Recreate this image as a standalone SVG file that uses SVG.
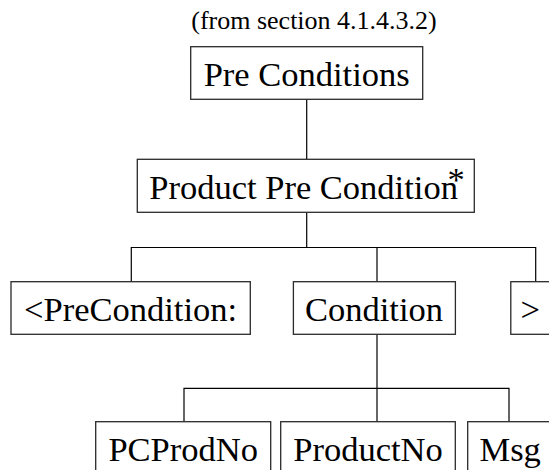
<svg xmlns="http://www.w3.org/2000/svg" width="549" height="470" viewBox="0 0 549 470" font-family="Liberation Serif, Tinos, DejaVu Serif, serif">
  <style>
    .box { fill: #ffffff; stroke: #2a2a2a; stroke-width: 1.3; }
    .lbl { font-family: 'Liberation Serif', 'DejaVu Serif', serif; font-size: 34.5px; fill: #000000; }
    .title { font-family: 'Liberation Serif', 'DejaVu Serif', serif; font-size: 26px; fill: #000000; }
    .wire { fill: none; stroke: #000000; stroke-width: 1.2; }
  </style>
  <rect width="549" height="470" fill="#ffffff"/>

  <text class="title" x="314" y="28.5" text-anchor="middle">(from section 4.1.4.3.2)</text>

  <!-- tree connectors -->
  <g id="connectors">
    <path class="wire" d="M306.7,99 V159.5"/>
    <path class="wire" d="M306.7,212.5 V247.5"/>
    <path class="wire" d="M131.3,282 V247.5 H535.7 V282"/>
    <path class="wire" d="M377,247.5 V282"/>
    <path class="wire" d="M377,334.5 V422"/>
    <path class="wire" d="M184,422 V388.3 H509 V422"/>
  </g>

  <g id="pre-conditions">
    <rect class="box" x="190.7" y="46.7" width="232" height="52.6"/>
    <text class="lbl" x="306.7" y="85.5" text-anchor="middle">Pre Conditions</text>
  </g>

  <g id="product-pre-condition">
    <rect class="box" x="137.3" y="159.3" width="337" height="53"/>
    <text class="lbl" x="149.3" y="199.3">Product Pre Condition</text>
    <text class="lbl" x="456" y="190.8" text-anchor="middle">*</text>
  </g>

  <g id="precondition-open">
    <rect class="box" x="11" y="281.7" width="239.3" height="52.6"/>
    <text class="lbl" x="130.6" y="320.5" text-anchor="middle">&lt;PreCondition:</text>
  </g>

  <g id="condition">
    <rect class="box" x="293.4" y="281.7" width="162" height="52.6"/>
    <text class="lbl" x="374" y="320.5" text-anchor="middle">Condition</text>
  </g>

  <g id="precondition-close">
    <rect class="box" x="510.8" y="281.7" width="60" height="52.6"/>
    <text class="lbl" x="520.5" y="320.5">&gt;</text>
  </g>

  <g id="pcprodno">
    <rect class="box" x="95.7" y="421.7" width="175" height="60"/>
    <text class="lbl" x="183.2" y="461" text-anchor="middle">PCProdNo</text>
  </g>

  <g id="productno">
    <rect class="box" x="280.7" y="421.7" width="174.6" height="60"/>
    <text class="lbl" x="368" y="461" text-anchor="middle">ProductNo</text>
  </g>

  <g id="msg">
    <rect class="box" x="467.7" y="421.7" width="100" height="60"/>
    <text class="lbl" x="479.5" y="461">Msg</text>
  </g>
</svg>
